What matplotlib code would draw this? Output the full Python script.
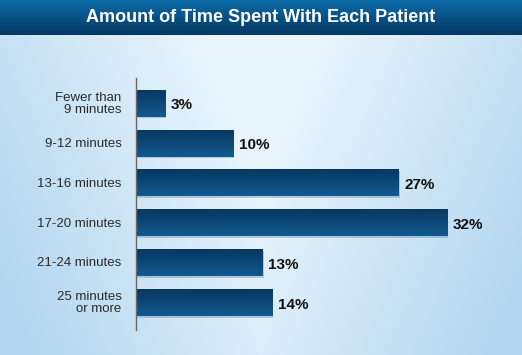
import numpy as np
import matplotlib.pyplot as plt
from matplotlib.transforms import offset_copy

# chart data
categories = ['Fewer than\n9 minutes', '9-12 minutes', '13-16 minutes',
              '17-20 minutes', '21-24 minutes', '25 minutes\nor more']
percents = [3, 10, 27, 32, 13, 14]
value_labels = ['3%', '10%', '27%', '32%', '13%', '14%']
title = 'Amount of Time Spent With Each Patient'

font = 'Liberation Sans'

W, H = 522, 355
fig = plt.figure(figsize=(W / 100, H / 100), dpi=100)

# background: light blue, paler towards the middle
bg = fig.add_axes([0, 0, 1, 1])
bg.set_axis_off()
xx, yy = np.meshgrid(np.linspace(-1, 1, 300), np.linspace(-1, 1, 200))
d = np.clip(np.abs(xx) * 0.85 + 0.25 * yy, 0, 1)
c_in = np.array([0.91, 0.96, 0.99])
c_out = np.array([0.70, 0.84, 0.94])
img = c_in[None, None, :] * (1 - d[..., None]) + c_out[None, None, :] * d[..., None]
bg.imshow(img, extent=[0, 1, 0, 1], aspect='auto', zorder=0)
bg.set_xlim(0, 1)
bg.set_ylim(0, 1)

# title band
band_h = 35 / H
g = np.linspace(0, 1, 50)[:, None]
top = np.array([0.05, 0.42, 0.66])
bot = np.array([0.02, 0.22, 0.38])
band = top[None, None, :] * (1 - g[..., None]) + bot[None, None, :] * g[..., None]
band = np.repeat(band, 2, axis=1)
bg.imshow(band, extent=[0, 1, 1 - band_h, 1], aspect='auto', zorder=1)
fig.text(0.5, 1 - 17.5 / H, title, color='white', fontsize=13, fontweight='bold',
         family=font, ha='center', va='center')

# bar area
left = 136 / W
ax = fig.add_axes([left, (H - 330) / H, 1 - left, 252 / H])
ax.patch.set_alpha(0)
y = np.arange(len(categories))
bar_h = 0.67

grad = np.linspace(0, 1, 30)[:, None]
c_top = np.array([0.03, 0.22, 0.38])
c_bot = np.array([0.07, 0.35, 0.56])
bar_img = c_top[None, None, :] * (1 - grad[..., None]) + c_bot[None, None, :] * grad[..., None]
bar_img = np.repeat(bar_img, 2, axis=1)
for yi, v, lab in zip(y, percents, value_labels):
    # soft shadow
    ax.barh(yi + 0.04, v + 0.12, height=bar_h, color='#5f7f99', alpha=0.35, zorder=1)
    ax.imshow(bar_img, extent=[0, v, yi + bar_h / 2, yi - bar_h / 2],
              aspect='auto', zorder=2)
    ax.text(v + 0.6, yi + 0.05, lab, fontsize=11, fontweight='bold', family=font,
            color='#111111', va='center', ha='left')

ax.set_xlim(0, 386 / 9.72)
ax.set_ylim(len(categories) - 1 + 0.6875, -0.6375)

# category labels, right aligned against the axis line
lab_tr = offset_copy(ax.get_yaxis_transform(), fig=fig, x=-10.5, y=-0.5, units='points')
for yi, cat in zip(y, categories):
    ax.text(0, yi, cat, transform=lab_tr, ha='right', va='center',
            multialignment='right', fontsize=9.5, family=font, color='#2a2a2a',
            linespacing=1.0)

ax.set_yticks([])
ax.set_xticks([])
for s in ['top', 'right', 'bottom']:
    ax.spines[s].set_visible(False)
ax.spines['left'].set_color('#666666')
ax.spines['left'].set_linewidth(1)

fig.savefig('out.png', dpi=100)
